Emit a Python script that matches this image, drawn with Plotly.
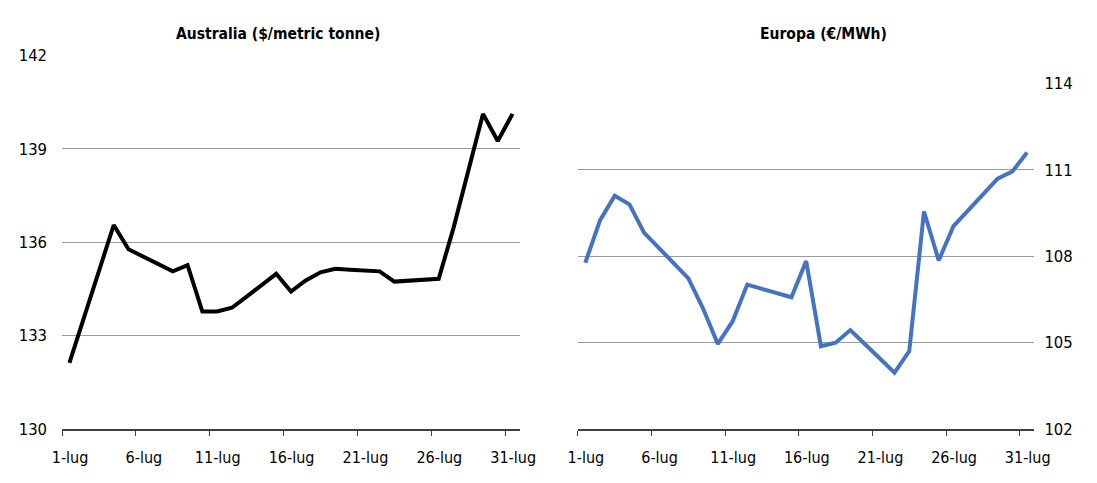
import plotly.graph_objects as go

# Daily quotes for July
days = list(range(1, 32))
tick_days = [1, 6, 11, 16, 21, 26, 31]
tick_labels = [f"{d}-lug" for d in tick_days]

australia = [132.12, 133.60, 135.07, 136.55, 135.77, 135.53, 135.30, 135.06,
             135.26, 133.77, 133.77, 133.89, 134.25, 134.62, 134.98, 134.41,
             134.77, 135.03, 135.14, 135.11, 135.09, 135.06, 134.73, 134.77,
             134.78, 134.82, 136.45, 138.24, 140.12, 139.25, 140.12]

europa = [107.77, 109.24, 110.10, 109.80, 108.81, 108.29, 107.75, 107.23,
          106.18, 104.95, 105.73, 107.01, 106.86, 106.72, 106.57, 107.83,
          104.87, 104.99, 105.43, 104.94, 104.44, 103.95, 104.70, 109.55,
          107.85, 109.04, 109.59, 110.14, 110.69, 110.94, 111.60]

titles = ["Australia ($/metric tonne)", "Europa (€/MWh)"]

W, H = 1097, 483
FONT = "Liberation Sans Narrow, DejaVu Sans Condensed, Arial Narrow, sans-serif"
GRID = "#9c9c9c"
AXIS = "#404040"

fig = go.Figure()
fig.add_trace(go.Scatter(x=days, y=australia, mode="lines",
                         line=dict(color="#000000", width=4),
                         xaxis="x", yaxis="y", showlegend=False))
fig.add_trace(go.Scatter(x=days, y=europa, mode="lines",
                         line=dict(color="#4472c4", width=4),
                         xaxis="x2", yaxis="y2", showlegend=False))

# tick marks sit on the day boundaries, labels centred on the day
tick_pos = [d - 0.5 for d in tick_days]
xcommon = dict(range=[0.5, 31.5], tickmode="array", tickvals=tick_pos,
               ticktext=tick_labels, ticks="outside", ticklen=5,
               tickcolor=AXIS, tickwidth=1.2, showline=True, linecolor=AXIS,
               linewidth=1.5, showgrid=False, zeroline=False,
               tickfont=dict(family=FONT, size=16, color="#000000"),
               ticklabelshift=8, ticklabelstandoff=8)
ycommon = dict(dtick=3, showgrid=True, gridcolor=GRID, gridwidth=1.4,
               zeroline=False, showline=False, ticks="",
               tickfont=dict(family=FONT, size=16.5, color="#000000"))

fig.update_layout(
    width=W, height=H,
    margin=dict(l=0, r=0, t=0, b=0),
    paper_bgcolor="white", plot_bgcolor="white",
    xaxis=dict(domain=[53.3 / W, 522.3 / W], anchor="y", **xcommon),
    yaxis=dict(domain=[46 / H, (H - 48.3) / H], range=[130, 142], tick0=130,
               anchor="x", ticklabelstandoff=14, **ycommon),
    xaxis2=dict(domain=[581.7 / W, 1049.3 / W], anchor="y2", **xcommon),
    yaxis2=dict(domain=[46 / H, (H - 77.5) / H], range=[102, 114], tick0=102,
                anchor="x2", side="right", ticklabelstandoff=9, **ycommon),
    annotations=[
        dict(text=titles[0], x=274 / W, y=1 - 26 / H, xref="paper", yref="paper",
             xanchor="center", yanchor="middle", showarrow=False,
             font=dict(family=FONT, size=15.5, color="#000000", weight="bold")),
        dict(text=titles[1], x=833 / W, y=1 - 26 / H, xref="paper", yref="paper",
             xanchor="center", yanchor="middle", showarrow=False,
             font=dict(family=FONT, size=15.5, color="#000000", weight="bold")),
    ],
)

fig.write_html("out.html")
